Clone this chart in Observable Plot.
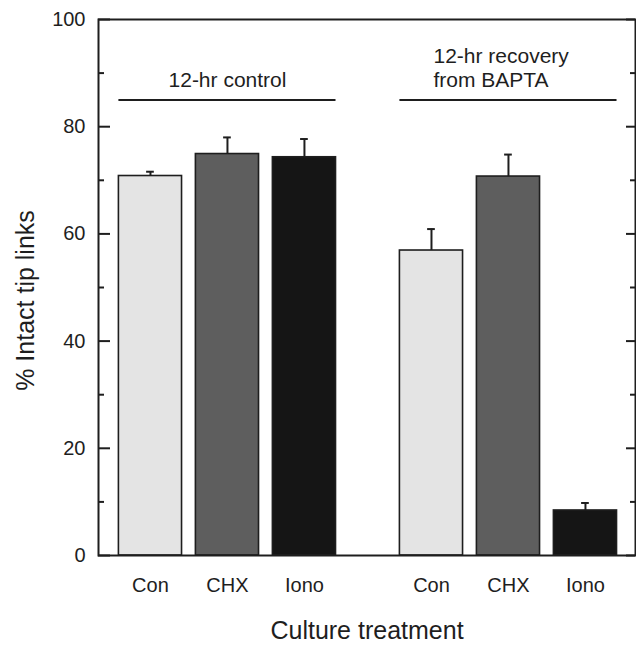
<!DOCTYPE html>
<html>
<head>
<meta charset="utf-8">
<script src="https://cdn.jsdelivr.net/npm/d3@7"></script>
<script src="https://cdn.jsdelivr.net/npm/@observablehq/plot@0.6"></script>
<style>
  html, body { margin: 0; padding: 0; background: #fff; }
  #chart { width: 636px; height: 645px; }
</style>
</head>
<body>
<div id="chart"></div>
<script>
// ---- data ----
const groups = ["12-hr control", "12-hr recovery\nfrom BAPTA"];
const treatments = ["Con", "CHX", "Iono"];
const controlValues = [70.8, 74.9, 74.3];
const controlErrors = [0.8, 3.1, 3.4];
const recoveryValues = [56.9, 70.7, 8.4];
const recoveryErrors = [4.0, 4.1, 1.4];
const treatmentFills = ["#e4e4e4", "#5e5e5e", "#151515"];
const yMajorTicks = [0, 20, 40, 60, 80, 100];
const yMinorTicks = [10, 30, 50, 70, 90];
const groupRuleLevel = 85;

// ---- layout helpers (not data) ----
const GAP = 0.65;          // extra spacing between the two groups, in slot units
const HALF = 0.41;         // half bar width, in slot units
const CAP = 0.05;          // half error-cap width
const W = 636, H = 645;
const mL = 98, mR = 1, mT = 19, mB = 90;
const plotW = W - mL - mR;

const groupValues = [controlValues, recoveryValues];
const groupErrors = [controlErrors, recoveryErrors];
const rows = [];
groups.forEach((g, gi) => {
  treatments.forEach((t, ti) => {
    rows.push({
      group: g,
      treatment: t,
      pos: gi * (treatments.length + GAP) + ti,
      value: groupValues[gi][ti],
      err: groupErrors[gi][ti]
    });
  });
});
const groupRows = groups.map((g, gi) => {
  const r = rows.filter(d => d.group === g);
  return {group: g, x1: r[0].pos - HALF, x2: r[r.length - 1].pos + HALF, first: r[0].pos, mid: r[1].pos};
});

const font = "'Liberation Sans', Arial, Helvetica, sans-serif";
const ink = "#1e1e1e";

const chart = Plot.plot({
  width: W,
  height: H,
  marginLeft: mL,
  marginRight: mR,
  marginTop: mT,
  marginBottom: mB,
  style: {fontFamily: font, color: ink, background: "#fff"},
  x: {domain: [-0.675, 6.3], axis: null},
  y: {domain: [0, 100], axis: null},
  color: {domain: treatments, range: treatmentFills},
  marks: [
    // bars
    Plot.rectY(rows, {x1: d => d.pos - HALF, x2: d => d.pos + HALF, y1: 0, y2: "value",
      fill: "treatment", stroke: ink, strokeWidth: 1.6}),
    // error bars (upper only)
    Plot.ruleX(rows, {x: "pos", y1: "value", y2: d => d.value + d.err, stroke: ink, strokeWidth: 2}),
    Plot.ruleY(rows, {x1: d => d.pos - CAP, x2: d => d.pos + CAP, y: d => d.value + d.err, stroke: ink, strokeWidth: 2}),
    // group rules and labels
    Plot.ruleY(groupRows, {x1: "x1", x2: "x2", y: groupRuleLevel, stroke: ink, strokeWidth: 2}),
    Plot.text(groupRows.slice(0, 1), {x: "mid", y: groupRuleLevel, text: "group", lineAnchor: "bottom",
      dy: -13, fontSize: 21, fill: ink}),
    Plot.text(groupRows.slice(1), {x: "first", y: groupRuleLevel, text: "group", lineAnchor: "bottom",
      textAnchor: "start", dx: 2, dy: -13, fontSize: 21, lineHeight: 1.15, fill: ink}),
    // y ticks, left (inward) and right (inward)
    Plot.tickY(yMajorTicks, {y: d => d, insetRight: plotW - 12, stroke: ink, strokeWidth: 2}),
    Plot.tickY(yMinorTicks, {y: d => d, insetRight: plotW - 6, stroke: ink, strokeWidth: 2}),
    Plot.tickY(yMajorTicks, {y: d => d, insetLeft: plotW - 9, stroke: ink, strokeWidth: 2}),
    Plot.tickY(yMinorTicks, {y: d => d, insetLeft: plotW - 5, stroke: ink, strokeWidth: 2}),
    // y tick labels
    Plot.axisY(yMajorTicks, {anchor: "left", tickSize: 0, tickPadding: 13, fontSize: 20, label: null, color: ink}),
    // x tick labels
    Plot.text(rows, {x: "pos", y: 0, text: "treatment", dy: 30, fontSize: 20, fill: ink}),
    // axis titles
    Plot.text(["Culture treatment"], {frameAnchor: "bottom", lineAnchor: "middle", dy: 75, fontSize: 25, fill: ink}),
    Plot.text(["% Intact tip links"], {frameAnchor: "left", textAnchor: "middle", lineAnchor: "middle",
      rotate: -90, dx: -73, dy: 13, fontSize: 25, fill: ink}),
    // frame
    Plot.frame({stroke: ink, strokeWidth: 2})
  ]
});
document.getElementById("chart").append(chart);
</script>
</body>
</html>
